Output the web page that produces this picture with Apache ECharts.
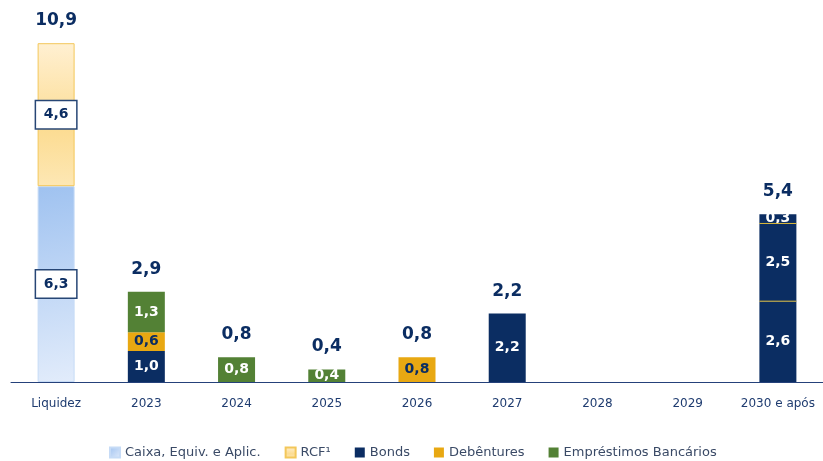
<!DOCTYPE html>
<html>
<head>
<meta charset="utf-8">
<script src="https://cdn.jsdelivr.net/npm/echarts@6/dist/echarts.min.js"></script>
<style>
  html, body { margin: 0; padding: 0; background: #fff; }
  #chart { width: 823px; height: 461px; }
</style>
</head>
<body>
<div id="chart"></div>
<script>
// categorias e valores (R$ bi)
var categories = ['Liquidez', '2023', '2024', '2025', '2026', '2027', '2028', '2029', '2030 e após'];
var caixa = [6.3, null, null, null, null, null, null, null, null];
var rcf = [4.6, null, null, null, null, null, null, null, null];
var bonds = [null, 1.0, null, null, null, 2.2, null, null, 2.6];
var bonds2 = [null, null, null, null, null, null, null, null, 2.5];
var bonds3 = [null, null, null, null, null, null, null, null, 0.3];
var debentures = [null, 0.6, null, null, 0.8, null, null, null, null];
var emprestimos = [null, 1.3, 0.8, 0.4, null, null, null, null, null];
var totals = [10.9, 2.9, 0.8, 0.4, 0.8, 2.2, null, null, 5.4];
// divisórias amarelas no bloco de 2030
var dividers = [[8, 2.6], [8, 5.1]];

var NAVY = '#0b2d62';
var GREEN = '#538135';
var GOLD = '#e8a812';
var FONT = 'DejaVu Sans';
var BAR_W = 37;

function fmt(v) {
    return v.toFixed(1).replace('.', ',');
}

var chart = echarts.init(document.getElementById('chart'));

function segLabel(color, boxed) {
    var l = {
        show: true,
        position: 'inside',
        color: color,
        fontFamily: FONT,
        fontWeight: 'bold',
        fontSize: 14,
        formatter: function (p) { return p.value == null ? '' : fmt(p.value); }
    };
    if (boxed) {
        l.backgroundColor = '#fff';
        l.borderColor = '#274675';
        l.borderWidth = 1.5;
        l.color = NAVY;
        l.padding = [7, 5, 6, 5];
        l.width = 30;
        l.align = 'center';
    }
    return l;
}

var option = {
    animation: false,
    grid: {
        left: 11,
        right: -5,
        top: 9,
        bottom: 79
    },
    legend: {
        bottom: -3,
        left: 104,
        itemWidth: 10,
        itemHeight: 10,
        itemGap: 24,
        icon: 'rect',
        textStyle: {
            fontFamily: FONT,
            fontSize: 13,
            color: '#3a4a66'
        },
        data: ['Caixa, Equiv. e Aplic.', 'RCF¹', 'Bonds', 'Debêntures', 'Empréstimos Bancários']
    },
    xAxis: {
        type: 'category',
        data: categories,
        axisLine: {
            lineStyle: { color: '#25417a', width: 1 }
        },
        axisTick: { show: false },
        axisLabel: {
            interval: 0,
            color: '#1f3c70',
            fontFamily: FONT,
            fontSize: 12,
            margin: 16
        }
    },
    yAxis: {
        type: 'value',
        min: 0,
        max: 12,
        show: false,
        splitLine: { show: false }
    },
    series: [{
        name: 'Caixa, Equiv. e Aplic.',
        type: 'bar',
        stack: 'a',
        barWidth: BAR_W,
        itemStyle: {
            color: new echarts.graphic.LinearGradient(0, 0, 1, 1, [
                { offset: 0, color: '#9fc2f0' },
                { offset: 1, color: '#e2ecfb' }
            ]),
            borderColor: '#c6dbf6',
            borderWidth: 1
        },
        label: segLabel(NAVY, true),
        data: caixa
    }, {
        name: 'RCF¹',
        type: 'bar',
        stack: 'a',
        itemStyle: {
            color: new echarts.graphic.LinearGradient(0, 0, 0, 1, [
                { offset: 0, color: '#fff0d2' },
                { offset: 0.6, color: '#fcdc92' },
                { offset: 1, color: '#fde7b4' }
            ]),
            borderColor: '#f3c75a',
            borderWidth: 1
        },
        label: segLabel(NAVY, true),
        data: rcf
    }, {
        name: 'Bonds',
        type: 'bar',
        stack: 'a',
        itemStyle: { color: NAVY },
        label: segLabel('#fff'),
        data: bonds
    }, {
        name: 'Bonds ',
        type: 'bar',
        stack: 'a',
        itemStyle: { color: NAVY },
        label: segLabel('#fff'),
        data: bonds2
    }, {
        name: 'Bonds  ',
        type: 'bar',
        stack: 'a',
        itemStyle: { color: NAVY },
        label: segLabel('#fff'),
        data: bonds3
    }, {
        name: 'Debêntures',
        type: 'bar',
        stack: 'a',
        itemStyle: { color: GOLD },
        label: segLabel(NAVY),
        data: debentures
    }, {
        name: 'Empréstimos Bancários',
        type: 'bar',
        stack: 'a',
        itemStyle: { color: GREEN },
        label: segLabel('#fff'),
        data: emprestimos
    }, {
        // total acima de cada coluna
        name: 'total',
        type: 'bar',
        stack: 'a',
        itemStyle: { color: 'transparent' },
        label: {
            show: true,
            position: 'top',
            distance: 14,
            color: NAVY,
            fontFamily: FONT,
            fontWeight: 'bold',
            fontSize: 17,
            formatter: function (p) {
                var t = totals[p.dataIndex];
                return t == null ? '' : fmt(t);
            }
        },
        data: totals.map(function (t) { return t == null ? null : 0; })
    }, {
        type: 'custom',
        z: 10,
        silent: true,
        renderItem: function (params, api) {
            var p = api.coord([api.value(0), api.value(1)]);
            return {
                type: 'line',
                shape: { x1: p[0] - BAR_W / 2, y1: p[1], x2: p[0] + BAR_W / 2, y2: p[1] },
                style: { stroke: '#d9b83a', lineWidth: 1 }
            };
        },
        data: dividers
    }]
};

chart.setOption(option);
</script>
</body>
</html>
